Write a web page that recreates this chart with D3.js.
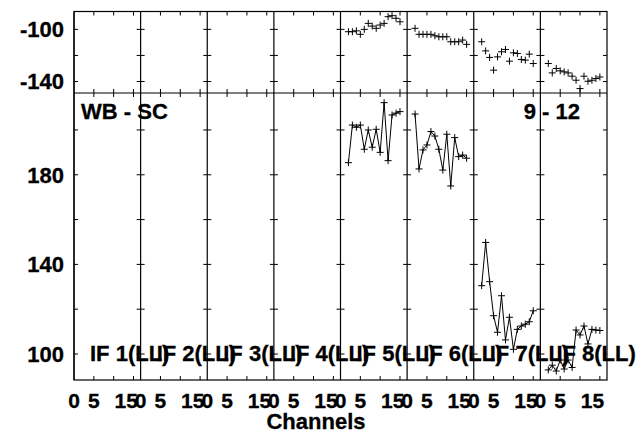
<!DOCTYPE html>
<html><head><meta charset="utf-8">
<script src="https://cdn.jsdelivr.net/npm/d3@7"></script>
<style>
body{margin:0;background:#fff;}
svg text{font-family:"Liberation Sans",Arial,Helvetica,sans-serif;font-weight:bold;fill:#000;stroke:#000;stroke-width:0.3px;}
</style></head>
<body><svg id="c" width="643" height="434"></svg>
<script>
// ---- data ----
const ifLabels = ["IF 1(LL)","IF 2(LL)","IF 3(LL)","IF 4(LL)","IF 5(LL)","IF 6(LL)","IF 7(LL)","IF 8(LL)"];
const xTickLabels = ["0","5","15"];
const topYTicks = [-100,-120,-140];
const topYLabels = [-100,-140];
const botYTicks = [100,120,140,160,180,200];
const botYLabels = [100,140,180];
const channels = [2,3,4,5,6,7,8,9,10,11,12,13,14,15];
// top panel (per IF, null = no data)
const top5 = [-101.8,-101.8,-101.1,-103.8,-100,-95.4,-97.5,-99.2,-96.7,-95.4,-90.3,-89.5,-91.5,-94.2];
const top6 = [-99.2,-103.8,-103.8,-103.8,-103.8,-104.9,-105.7,-105.7,-105.7,-109.5,-109.5,-109.5,-108.2,-111.5];
const top7 = [-109.5,-116.5,-121.5,-131.3,-121.1,-117.2,-115.4,-124.4,-118,-118.5,-123.1,-123.6,-119,-126.2];
const top8 = [-126.2,-133.4,-130,-131.8,-132.6,-133.4,-135.9,-139,-145.4,-135.9,-139.8,-139,-137.7,-136.5];
// bottom panel
const bot5 = [185.4,202.2,201.2,202.2,191.4,200,192.3,200.3,190,212.2,186.3,206.7,207.5,208.2];
const bot6 = [207.1,182.6,191.1,193.3,199.3,197.3,191.4,182.1,198.1,175,196.6,188.1,188.8,187.4];
const bot7 = [130.5,149.8,132.3,117.1,109.7,126,106.3,116.4,102.1,111,112.5,113.3,114.4,119.3];
const bot8 = [92.9,95,92.4,97.3,93.3,97.3,94,110.7,108.5,112.5,104.5,111,110.7,110.5];
const topSeries = [null,null,null,null,top5,top6,top7,top8];
const botSeries = [null,null,null,null,bot5,bot6,bot7,bot8];

// ---- layout ----
const svg = d3.select("#c");
const L = 74, R = 607, T = 11.5, M = 93, B = 380;
const nP = ifLabels.length, pw = (R - L) / nP;
const yTop = d3.scaleLinear().domain([-148.8,-86.3]).range([M, T]);
const yBot = d3.scaleLinear().domain([88.4,216.5]).range([B, M]);
const tickLen = 4;

function panelX(i){ return d3.scaleLinear().domain([0,16.8]).range([L + i*pw, L + (i+1)*pw]); }

const g = svg.append("g");
for (let i = 0; i < nP; i++) {
  const x = panelX(i);
  [ [yTop, topYTicks, T, M], [yBot, botYTicks, M, B] ].forEach(([ys, yt, y0, y1]) => {
    [5,10,15].forEach(c => {
      g.append("line").attr("x1", x(c)).attr("x2", x(c)).attr("y1", y0).attr("y2", y0 + tickLen).attr("stroke","#000");
      g.append("line").attr("x1", x(c)).attr("x2", x(c)).attr("y1", y1).attr("y2", y1 - tickLen).attr("stroke","#000");
    });
    yt.forEach(v => {
      g.append("line").attr("x1", x.range()[0]).attr("x2", x.range()[0] + tickLen).attr("y1", ys(v)).attr("y2", ys(v)).attr("stroke","#000");
      g.append("line").attr("x1", x.range()[1]).attr("x2", x.range()[1] - tickLen).attr("y1", ys(v)).attr("y2", ys(v)).attr("stroke","#000");
    });
  });
  g.append("line").attr("x1", x.range()[0]).attr("x2", x.range()[0]).attr("y1", T).attr("y2", B).attr("stroke","#000").attr("stroke-width",1.2);
}
g.append("rect").attr("x", L).attr("y", T).attr("width", R - L).attr("height", B - T).attr("fill","none").attr("stroke","#000").attr("stroke-width",1.2);
g.append("line").attr("x1", L).attr("x2", R).attr("y1", M).attr("y2", M).attr("stroke","#000").attr("stroke-width",1.2);

topYLabels.forEach(v => g.append("text").attr("x", 64).attr("y", yTop(v)).attr("dy","0.36em").attr("text-anchor","end").attr("font-size",22).text(v));
botYLabels.forEach(v => g.append("text").attr("x", 64).attr("y", yBot(v)).attr("dy","0.36em").attr("text-anchor","end").attr("font-size",22).text(v));

for (let i = 0; i < nP; i++) {
  const x = panelX(i);
  g.append("text").attr("x", x(0)).attr("y", 408).attr("text-anchor","middle").attr("font-size",21).text(xTickLabels[0]);
  g.append("text").attr("x", x(5)).attr("y", 408).attr("text-anchor","middle").attr("font-size",21).text(xTickLabels[1]);
  g.append("text").attr("x", x(16.1)).attr("y", 408).attr("text-anchor","end").attr("font-size",21).text(xTickLabels[2]);
}
g.append("text").attr("x", 316).attr("y", 429).attr("text-anchor","middle").attr("font-size",22).text("Channels");

function plus(sel, px, py){ sel.append("path").attr("d", `M${px-3.5},${py}H${px+3.5}M${px},${py-3.5}V${py+3.5}`).attr("stroke","#000").attr("stroke-width",1); }
for (let i = 0; i < nP; i++) {
  const x = panelX(i);
  if (topSeries[i]) topSeries[i].forEach((v, k) => plus(g, x(channels[k]), yTop(v)));
  if (botSeries[i]) {
    const pts = botSeries[i].map((v, k) => [x(channels[k]), yBot(v)]);
    g.append("path").attr("d", d3.line()(pts)).attr("fill","none").attr("stroke","#000").attr("stroke-width",1);
    pts.forEach(p => plus(g, p[0], p[1]));
  }
}

g.append("text").attr("x", 81).attr("y", 119).attr("font-size",22).text("WB - SC");
g.append("text").attr("x", 580).attr("y", 119).attr("text-anchor","end").attr("font-size",22).text("9 - 12");
ifLabels.forEach((t, i) => g.append("text").attr("x", L + i*pw + 16).attr("y", 361).attr("font-size",22).text(t));
</script></body></html>
